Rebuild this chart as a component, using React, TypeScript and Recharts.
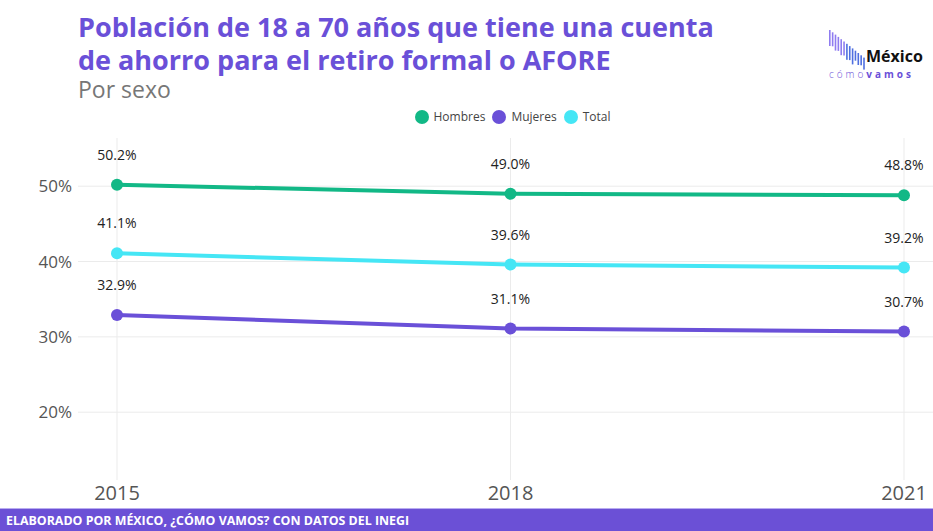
import React from "react";
import { LineChart, Line, XAxis, YAxis, ReferenceLine, Legend, LabelList } from "recharts";

const years = [2015, 2018, 2021];
const hombres = [50.2, 49.0, 48.8];
const mujeres = [32.9, 31.1, 30.7];
const total = [41.1, 39.6, 39.2];
const yTicks = [20, 30, 40, 50];

const seriesNames = ["Hombres", "Mujeres", "Total"];
const seriesColors = ["#12b886", "#6a50d8", "#45e6f5"];

const data = years.map((y, i) => ({
  year: y,
  Hombres: hombres[i],
  Mujeres: mujeres[i],
  Total: total[i],
}));

const FONT = "'Open Sans', 'Noto Sans', sans-serif";

const renderLegend = () => (
  <div style={{ display: "flex", justifyContent: "center", alignItems: "center", fontFamily: FONT, fontSize: 12, color: "#444" }}>
    {seriesNames.map((n, i) => (
      <div key={n} style={{ display: "flex", alignItems: "center", marginRight: i < 2 ? 7 : 0 }}>
        <svg width={14} height={14} style={{ marginRight: 5 }}>
          <circle cx={7} cy={7} r={7} fill={seriesColors[i]} />
        </svg>
        <span>{n}</span>
      </div>
    ))}
  </div>
);

const Logo = () => {
  const bars = Array.from({ length: 13 }, (_, i) => i);
  return (
    <svg width={110} height={60} style={{ position: "absolute", left: 822, top: 25 }}>
      {bars.map((i) => (
        <rect
          key={i}
          x={7 + i * 2.85}
          y={5 + i * 2.3}
          width={1.6}
          height={16 - (i % 2) * 2 + (i > 8 ? -4 : 0)}
          fill={i < 6 ? "#8f7cf0" : "#4f6fe0"}
        />
      ))}
      <text x={44} y={37} fontFamily={FONT} fontWeight={700} fontSize={16} fill="#111">México</text>
      <text x={7} y={53} fontFamily={FONT} fontSize={10} letterSpacing={3} fill="#6a50d8">
        <tspan fontWeight={300}>cómo</tspan>
        <tspan fontWeight={700}>vamos</tspan>
      </text>
    </svg>
  );
};

const titleStyle: React.CSSProperties = {
  position: "absolute",
  left: 78,
  color: "#6a50d8",
  fontWeight: 700,
  fontSize: 27,
  lineHeight: "30px",
  whiteSpace: "nowrap",
};

export default function App() {
  return (
    <div style={{ position: "absolute", left: 0, top: 0, width: 933, height: 531, background: "#fff", overflow: "hidden", fontFamily: FONT }}>
      <div style={{ ...titleStyle, top: 12 }}>Población de 18 a 70 años que tiene una cuenta</div>
      <div style={{ ...titleStyle, top: 45 }}>de ahorro para el retiro formal o AFORE</div>
      <div style={{ position: "absolute", left: 78, top: 76, color: "#777", fontSize: 23, lineHeight: "26px" }}>Por sexo</div>
      <Logo />
      <div style={{ position: "absolute", left: 0, top: 0 }}>
        <LineChart width={933} height={531} data={data} margin={{ top: 138, right: 0, bottom: 0, left: 0 }}>
          <XAxis
            dataKey="year"
            type="number"
            domain={[2015, 2021]}
            ticks={years}
            padding={{ left: 39, right: 29 }}
            height={51}
            axisLine={false}
            tickLine={false}
            tickSize={0}
            tickMargin={6}
            tick={{ fill: "#555", fontSize: 20, fontFamily: FONT }}
          />
          <YAxis
            type="number"
            domain={[11, 56.4]}
            ticks={yTicks}
            width={78}
            axisLine={false}
            tickLine={false}
            tickSize={0}
            tickMargin={6}
            tickFormatter={(v) => `${v}%`}
            tick={{ fill: "#555", fontSize: 17, fontFamily: FONT }}
          />
          {yTicks.map((t) => (
            <ReferenceLine key={`h${t}`} y={t} stroke="#ebebeb" strokeWidth={1} />
          ))}
          {years.map((y) => (
            <ReferenceLine key={`v${y}`} x={y} stroke="#ebebeb" strokeWidth={1} />
          ))}
          <Legend
            layout="vertical"
            align="center"
            verticalAlign="middle"
            content={renderLegend}
            wrapperStyle={{ position: "absolute", top: 108, left: 85, width: 855 }}
          />
          {seriesNames.map((n, i) => (
            <Line
              key={n}
              dataKey={n}
              type="linear"
              stroke={seriesColors[i]}
              strokeWidth={4}
              dot={{ r: 6, fill: seriesColors[i], stroke: seriesColors[i], strokeWidth: 0 }}
              isAnimationActive={false}
            >
              <LabelList
                dataKey={n}
                position="top"
                offset={25}
                formatter={(v) => `${Number(v).toFixed(1)}%`}
                style={{ fill: "#222", fontSize: 14, fontFamily: FONT }}
              />
            </Line>
          ))}
        </LineChart>
      </div>
      <div style={{ position: "absolute", left: 0, top: 508, width: 933, height: 23, background: "#6b50d6", borderTop: "1px solid #b9acf0", boxSizing: "border-box" }}>
        <div style={{ position: "absolute", left: 6, top: 3, color: "#fff", fontWeight: 700, fontSize: 12.4, letterSpacing: 0, whiteSpace: "nowrap" }}>
          ELABORADO POR MÉXICO, ¿CÓMO VAMOS? CON DATOS DEL INEGI
        </div>
      </div>
    </div>
  );
}
